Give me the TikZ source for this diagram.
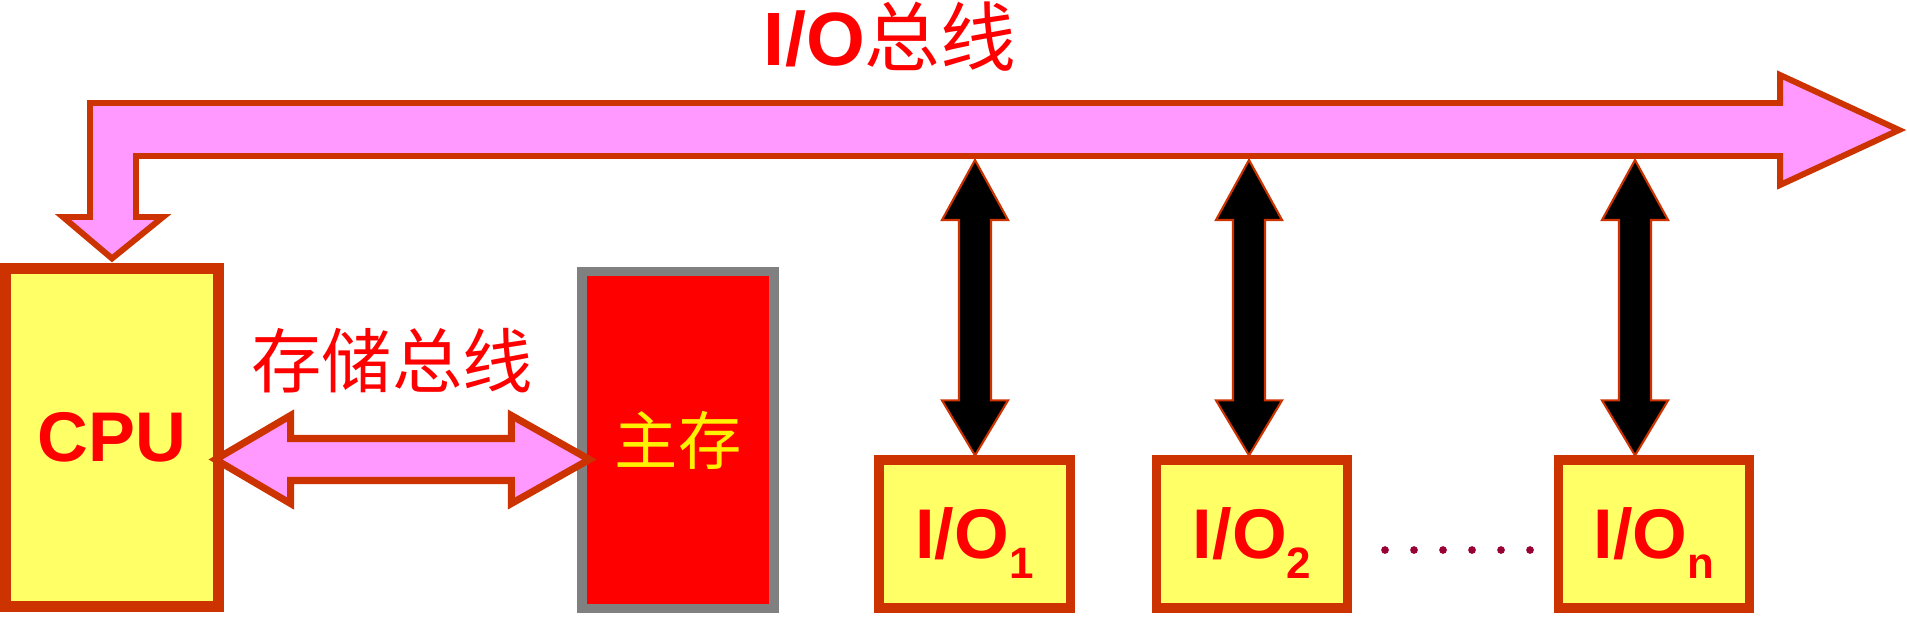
\documentclass[tikz,border=0pt]{standalone}
\usepackage{fontspec}
\setmainfont{Liberation Sans}
\newfontfamily\cjk{Noto Sans CJK SC}
\usetikzlibrary{calc}

\definecolor{busred}{RGB}{204,51,0}
\definecolor{boxyel}{RGB}{255,255,102}
\definecolor{buspink}{RGB}{255,153,255}
\definecolor{dotred}{RGB}{153,0,51}

\begin{document}
\begin{tikzpicture}[x=0.01cm, y=-0.01cm]
\tikzset{
  cpubox/.style={draw=busred, line width=3.1pt, fill=boxyel, minimum width=2.12cm,
    minimum height=3.37cm, text=red, font=\bfseries\fontsize{20}{24}\selectfont},
  membox/.style={draw=gray, line width=2.6pt, fill=red, minimum width=1.92cm,
    minimum height=3.36cm, text=yellow, font=\cjk\fontsize{18}{20}\selectfont},
  iobox/.style={draw=busred, line width=2.6pt, fill=boxyel, minimum width=1.91cm,
    minimum height=1.48cm, text=red, font=\bfseries\fontsize{20}{24}\selectfont},
  bus/.style={draw=busred, line width=1.7pt, fill=buspink, line join=miter},
  blk/.style={draw=busred, line width=0.6pt, fill=black},
  lab/.style={text=red, font=\cjk\fontsize{20}{24}\selectfont}}
\useasboundingbox (0,0) rectangle (1907,621);

% ---------------- CPU, main memory, I/O devices ----------------
\node[cpubox] (cpu) at (112,437.5) {CPU};
\node[membox] (mem) at (678,440) {主存};
\node[iobox] (io1) at (974.5,534) {I/O\raisebox{-5.5pt}[0pt][0pt]{\fontsize{12.5}{12}\selectfont 1}};
\node[iobox] (io2) at (1252,534) {I/O\raisebox{-5.5pt}[0pt][0pt]{\fontsize{12.5}{12}\selectfont 2}};
\node[iobox] (ion) at (1654,534) {I/O\raisebox{-5.5pt}[0pt][0pt]{\fontsize{12.5}{12}\selectfont n}};
\foreach \i in {0,...,5}
  \fill[dotred] (1385+29*\i,550) circle[radius=1.1pt];

% ---------------- I/O bus ----------------
\node[text=red, font=\fontsize{21.5}{24}\selectfont] (iolab) at (890,37) {\bfseries I/O{\cjk\mdseries 总线}};
\draw[bus] (90,103) -- (1780,103) -- (1780,75) -- (1899,130) -- (1780,185) -- (1780,156)
  -- (136,156) -- (136,217) -- (163,217) -- ($(cpu.north)+(0,-5)$) -- (63,217) -- (90,217) -- cycle;

\coordinate (t1) at (975,160);
\coordinate (t2) at (1249,160);
\coordinate (tn) at (1635,160);
\foreach \t/\b in {t1/io1, t2/io2, tn/ion}
  \draw[blk] (\t) -- ++(33,60) -- ++(-17,0) -- ($(\t |- \b.north)+(16,-55)$) -- ++(17,0)
    -- (\t |- \b.north) -- ++(-33,-55) -- ++(17,0) -- ($(\t)+(-16,60)$) -- ++(-17,0) -- cycle;

% ---------------- memory bus ----------------
\node[lab] (memlab) at (392,361) {存储总线};
\coordinate (sl) at ($(cpu.east)+(-8,22)$);
\coordinate (sr) at ($(sl -| mem.west)+(12,0)$);
\draw[bus, line width=2pt] (sl) -- ++(75,-44) -- ++(0,23) -- ($(sr)+(-78,-21)$) -- ++(0,-23) -- (sr)
  -- ++(-78,44) -- ++(0,-23) -- ($(sl)+(75,21)$) -- ++(0,23) -- cycle;
\end{tikzpicture}
\end{document}
